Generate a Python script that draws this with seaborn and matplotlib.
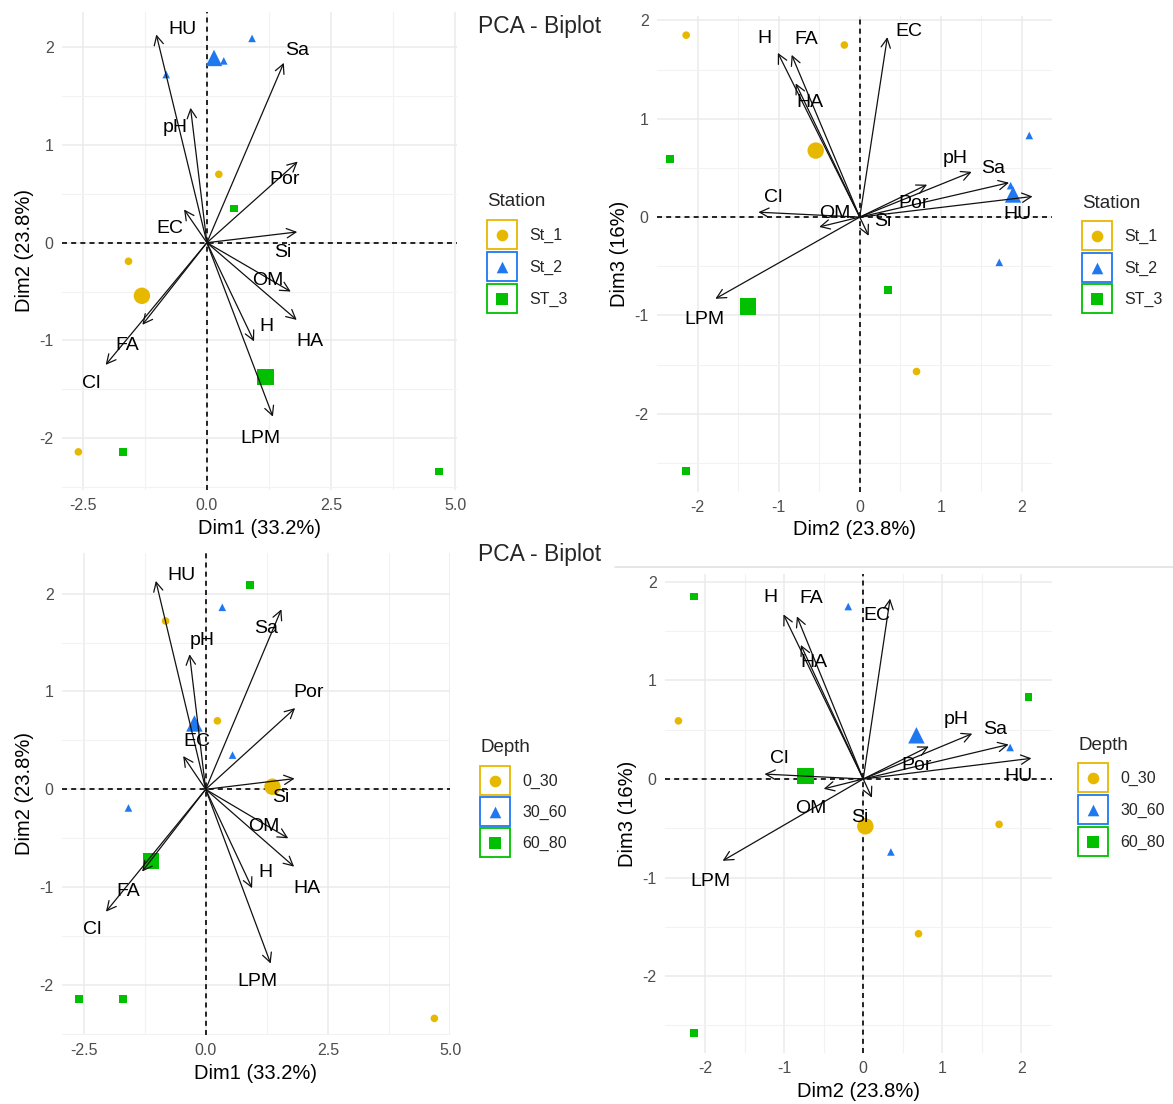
import numpy as np
import pandas as pd
import matplotlib
matplotlib.use("Agg")
import matplotlib.pyplot as plt
from matplotlib.patches import Rectangle
from matplotlib.ticker import MultipleLocator, FixedLocator
import seaborn as sns

# ---- Variable loadings (arrow tips) on the first three dimensions ----
variables = ["HU", "Sa", "pH", "Por", "EC", "Si", "OM", "HA", "H", "LPM", "FA", "Cl"]
var_dim1 = [-1.02, 1.55, -0.33, 1.83, -0.46, 1.82, 1.69, 1.81, 0.95, 1.33, -1.30, -2.04]
var_dim2 = [2.13, 1.84, 1.38, 0.83, 0.34, 0.11, -0.50, -0.79, -1.01, -1.78, -0.84, -1.25]
var_dim3 = [0.21, 0.35, 0.46, 0.33, 1.83, -0.19, -0.10, 1.36, 1.67, -0.83, 1.65, 0.05]

# ---- Individual scores ----
station = ["St_1", "St_1", "St_1", "St_2", "St_2", "St_2", "ST_3", "ST_3", "ST_3"]
depth = ["0_30", "30_60", "60_80", "0_30", "60_80", "30_60", "30_60", "60_80", "0_30"]
ind_dim1 = [0.24, -1.58, -2.59, -0.82, 0.91, 0.34, 0.55, -1.69, 4.68]
ind_dim2 = [0.70, -0.19, -2.14, 1.72, 2.09, 1.86, 0.35, -2.14, -2.34]
ind_dim3 = [-1.57, 1.75, 1.85, -0.46, 0.83, 0.32, -0.74, -2.58, 0.59]

station_levels = ["St_1", "St_2", "ST_3"]
depth_levels = ["0_30", "30_60", "60_80"]

ind = pd.DataFrame({"Station": station, "Depth": depth,
                    "Dim1": ind_dim1, "Dim2": ind_dim2, "Dim3": ind_dim3})
var = pd.DataFrame({"name": variables, "Dim1": var_dim1,
                    "Dim2": var_dim2, "Dim3": var_dim3})

# ---- Styling ----
sns.set_theme(style="white")
plt.rcParams["font.family"] = ["Liberation Sans", "DejaVu Sans"]

COLORS = ["#E7B800", "#1F78F0", "#00C000"]
SHAPES = ["o", "^", "s"]

# Label placement for the variable names, per panel (data coordinates)
LABELS_D12_TOP = {"HU": (-0.50, 2.18), "Sa": (1.81, 1.97), "pH": (-0.63, 1.18),
                  "Por": (1.57, 0.65), "EC": (-0.75, 0.15), "Si": (1.52, -0.10),
                  "OM": (1.23, -0.39), "HA": (2.08, -1.01), "H": (1.20, -0.86),
                  "LPM": (1.08, -2.00), "FA": (-1.60, -1.05), "Cl": (-2.34, -1.44)}
LABELS_D12_BOT = {"HU": (-0.50, 2.18), "Sa": (1.23, 1.64), "pH": (-0.07, 1.52),
                  "Por": (2.10, 0.99), "EC": (-0.18, 0.49), "Si": (1.54, -0.08),
                  "OM": (1.20, -0.38), "HA": (2.08, -1.01), "H": (1.23, -0.85),
                  "LPM": (1.06, -1.96), "FA": (-1.58, -1.04), "Cl": (-2.32, -1.43)}
LABELS_D23_TOP = {"EC": (0.61, 1.89), "H": (-1.17, 1.82), "FA": (-0.66, 1.81),
                  "HA": (-0.61, 1.17), "pH": (1.18, 0.60), "Sa": (1.65, 0.49),
                  "Por": (0.66, 0.14), "HU": (1.94, 0.03), "Cl": (-1.07, 0.20),
                  "OM": (-0.31, 0.04), "Si": (0.29, -0.04), "LPM": (-1.92, -1.04)}
LABELS_D23_BOT = {"EC": (0.17, 1.66), "H": (-1.17, 1.84), "FA": (-0.66, 1.83),
                  "HA": (-0.62, 1.18), "pH": (1.18, 0.60), "Sa": (1.67, 0.50),
                  "Por": (0.68, 0.14), "HU": (1.97, 0.03), "Cl": (-1.06, 0.21),
                  "OM": (-0.66, -0.30), "Si": (-0.04, -0.39), "LPM": (-1.93, -1.04)}


def biplot(ax, xcol, ycol, group, levels, xlim, ylim, xmajor, xminor,
           xticklabels, labels, xlabel, ylabel):
    palette = dict(zip(levels, COLORS))
    markers = dict(zip(levels, SHAPES))

    # grid
    ax.set_xlim(*xlim)
    ax.set_ylim(*ylim)
    ax.xaxis.set_major_locator(FixedLocator(xmajor))
    ax.xaxis.set_minor_locator(FixedLocator(xminor))
    ax.yaxis.set_major_locator(MultipleLocator(1))
    ax.yaxis.set_minor_locator(MultipleLocator(0.5))
    ax.set_xticklabels(xticklabels)
    ax.set_yticklabels([f"{int(v)}" for v in ax.get_yticks()])
    ax.grid(which="major", color="#EBEBEB", lw=1.1, zorder=0)
    ax.grid(which="minor", color="#F2F2F2", lw=0.8, zorder=0)
    ax.set_axisbelow(True)
    for sp in ax.spines.values():
        sp.set_visible(False)
    ax.tick_params(which="major", length=3, width=1.0, color="#333333",
                   labelsize=11.5, labelcolor="#4D4D4D", pad=3)
    ax.tick_params(which="minor", length=0)

    # reference lines
    ax.axhline(0, color="black", lw=1.2, ls=(0, (3, 2.5)), zorder=1)
    ax.axvline(0, color="black", lw=1.2, ls=(0, (3, 2.5)), zorder=1)

    # individuals and group means
    sns.scatterplot(data=ind, x=xcol, y=ycol, hue=group, style=group,
                    hue_order=levels, style_order=levels, palette=palette,
                    markers=markers, s=30, linewidth=0, legend=False,
                    ax=ax, zorder=3)
    means = ind.groupby(group, sort=False)[[xcol, ycol]].mean().reset_index()
    sns.scatterplot(data=means, x=xcol, y=ycol, hue=group, style=group,
                    hue_order=levels, style_order=levels, palette=palette,
                    markers=markers, s=140, linewidth=0, legend=False,
                    ax=ax, zorder=3)

    # variable arrows
    for _, r in var.iterrows():
        ax.annotate("", xy=(r[xcol], r[ycol]), xytext=(0, 0),
                    arrowprops=dict(arrowstyle="->,head_length=0.55,head_width=0.28",
                                    lw=0.9, color="#111111",
                                    shrinkA=0, shrinkB=0),
                    zorder=4)
        lx, ly = labels[r["name"]]
        ax.text(lx, ly, r["name"], ha="center", va="center",
                fontsize=14, color="black", zorder=5)

    ax.set_xlabel(xlabel, fontsize=14.5, color="black", labelpad=4)
    ax.set_ylabel(ylabel, fontsize=14.5, color="black", labelpad=4)


fig = plt.figure(figsize=(11.73, 11.04), dpi=100)
fig.patch.set_facecolor("white")

W, H = 1173.0, 1104.0


def add_axes_px(x0, y0, x1, y1):
    return fig.add_axes([x0 / W, 1 - y1 / H, (x1 - x0) / W, (y1 - y0) / H])


ax_tl = add_axes_px(62, 12, 457, 490)
ax_tr = add_axes_px(657, 15.5, 1052, 491.5)
ax_bl = add_axes_px(62, 552.5, 450, 1035)
ax_br = add_axes_px(665, 574, 1052, 1053)

d1_major = [-2.5, 0.0, 2.5, 5.0]
d1_minor = [-1.25, 1.25, 3.75]
d1_labels = ["-2.5", "0.0", "2.5", "5.0"]
d2_major = [-2, -1, 0, 1, 2]
d2_minor = [-1.5, -0.5, 0.5, 1.5]
d2_labels = ["-2", "-1", "0", "1", "2"]

biplot(ax_tl, "Dim1", "Dim2", "Station", station_levels,
       (-2.92, 5.04), (-2.53, 2.36), d1_major, d1_minor, d1_labels,
       LABELS_D12_TOP, "Dim1 (33.2%)", "Dim2 (23.8%)")
biplot(ax_tr, "Dim2", "Dim3", "Station", station_levels,
       (-2.50, 2.37), (-2.79, 2.05), d2_major, d2_minor, d2_labels,
       LABELS_D23_TOP, "Dim2 (23.8%)", "Dim3 (16%)")
biplot(ax_bl, "Dim1", "Dim2", "Depth", depth_levels,
       (-2.94, 5.00), (-2.51, 2.42), d1_major, d1_minor, d1_labels,
       LABELS_D12_BOT, "Dim1 (33.2%)", "Dim2 (23.8%)")
biplot(ax_br, "Dim2", "Dim3", "Depth", depth_levels,
       (-2.51, 2.39), (-2.78, 2.08), d2_major, d2_minor, d2_labels,
       LABELS_D23_BOT, "Dim2 (23.8%)", "Dim3 (16%)")

# ---- overlay for titles and legends (pixel coordinates) ----
ov = fig.add_axes([0, 0, 1, 1], facecolor="none")
ov.set_xlim(0, W)
ov.set_ylim(H, 0)
ov.axis("off")

ov.text(478, 27, "PCA - Biplot", fontsize=16.5, ha="left", va="center")
ov.text(478, 555, "PCA - Biplot", fontsize=16.5, ha="left", va="center")
ov.plot([615, 1173], [567, 567], color="#E2E2E2", lw=1.2)


def legend_px(x, y_title, box_tops, title, levels, size=30):
    ov.text(x, y_title, title, fontsize=13.5, ha="left", va="center")
    for top, lvl, col, mk in zip(box_tops, levels, COLORS, SHAPES):
        ov.add_patch(Rectangle((x, top), size, size - 1, facecolor="white",
                               edgecolor=col, lw=1.3))
        ov.scatter([x + size / 2], [top + size / 2 - 0.5], marker=mk, s=70,
                   color=col, linewidths=0)
        ov.text(x + size + 12, top + size / 2, lvl, fontsize=11.5,
                ha="left", va="center")


legend_px(487, 202, [220, 252, 284], "Station", station_levels)
legend_px(1082, 203, [221, 253, 284], "Station", station_levels)
legend_px(480, 747, [766, 797, 828], "Depth", depth_levels)
legend_px(1078, 745, [763, 795, 827], "Depth", depth_levels)

fig.savefig("out.png", dpi=100, facecolor="white")
